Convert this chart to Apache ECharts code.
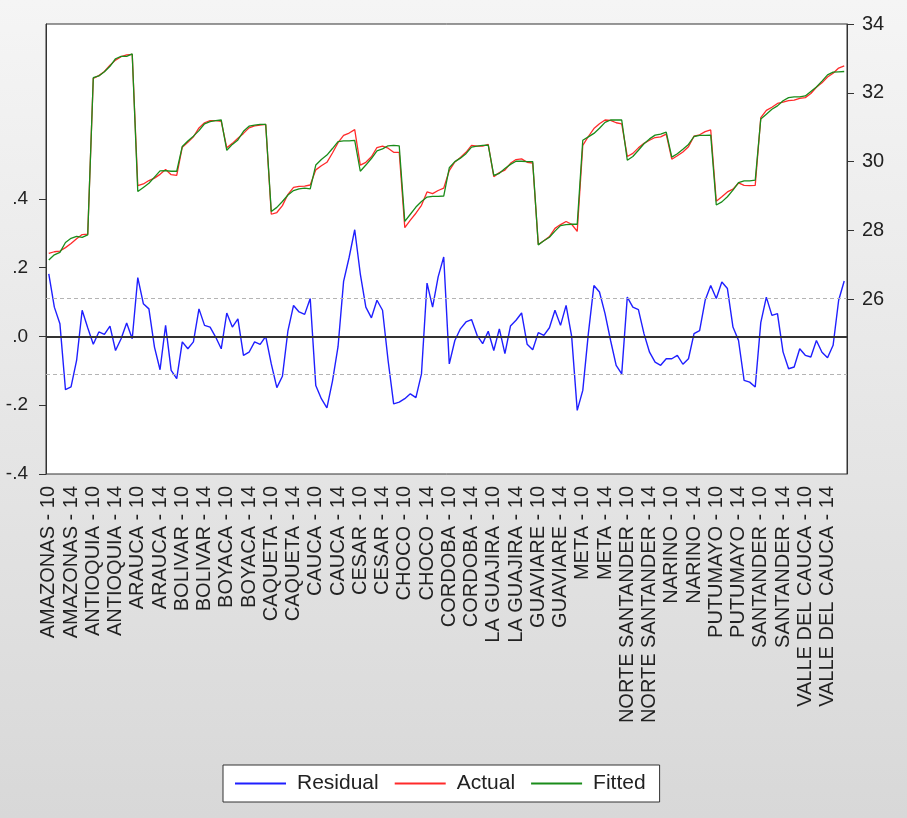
<!DOCTYPE html>
<html>
<head>
<meta charset="utf-8">
<title>Residual / Actual / Fitted</title>
<script src="https://cdn.jsdelivr.net/npm/echarts@6/dist/echarts.min.js"></script>
<style>
  html, body { margin: 0; padding: 0; background: #e6e6e6; }
  #chart { width: 907px; height: 818px; }
</style>
</head>
<body>
<div id="chart"></div>
<script>
// panel: 18 departments x years 10..17
const departments = ['AMAZONAS', 'ANTIOQUIA', 'ARAUCA', 'BOLIVAR', 'BOYACA', 'CAQUETA',
  'CAUCA', 'CESAR', 'CHOCO', 'CORDOBA', 'LA GUAJIRA', 'GUAVIARE', 'META',
  'NORTE SANTANDER', 'NARINO', 'PUTUMAYO', 'SANTANDER', 'VALLE DEL CAUCA'];
const years = ['10', '11', '12', '13', '14', '15', '16', '17'];

const actual = [
  27.33, 27.38, 27.40, 27.50, 27.62, 27.76, 27.88, 27.89,
  32.42, 32.50, 32.62, 32.80, 32.95, 33.05, 33.10, 33.12,
  29.30, 29.35, 29.45, 29.52, 29.63, 29.77, 29.62, 29.60,
  30.42, 30.56, 30.72, 30.98, 31.13, 31.19, 31.19, 31.17,
  30.40, 30.53, 30.68, 30.82, 30.98, 31.04, 31.06, 31.08,
  28.47, 28.52, 28.72, 29.05, 29.25, 29.28, 29.29, 29.32,
  29.76, 29.88, 29.98, 30.25, 30.55, 30.76, 30.83, 30.93,
  29.90, 29.98, 30.14, 30.41, 30.45, 30.39, 30.27, 30.27,
  28.08, 28.30, 28.50, 28.73, 29.12, 29.07, 29.16, 29.23,
  29.74, 29.99, 30.12, 30.27, 30.47, 30.45, 30.45, 30.50,
  29.56, 29.68, 29.75, 29.95, 30.06, 30.08, 29.98, 29.96,
  27.59, 27.70, 27.82, 28.06, 28.17, 28.26, 28.18, 27.97,
  30.47, 30.73, 30.96, 31.10, 31.21, 31.20, 31.13, 31.10,
  30.15, 30.24, 30.40, 30.53, 30.62, 30.70, 30.72, 30.80,
  30.07, 30.17, 30.28, 30.43, 30.74, 30.78, 30.87, 30.92,
  28.85, 28.98, 29.12, 29.20, 29.38, 29.31, 29.30, 29.31,
  31.28, 31.49, 31.58, 31.69, 31.73, 31.77, 31.79, 31.84,
  31.86, 31.98, 32.16, 32.29, 32.46, 32.57, 32.72, 32.78
];

const fitted = [
  27.14, 27.29, 27.36, 27.65, 27.77, 27.83, 27.80, 27.87,
  32.44, 32.49, 32.61, 32.77, 32.99, 33.06, 33.06, 33.13,
  29.13, 29.25, 29.37, 29.55, 29.73, 29.74, 29.72, 29.72,
  30.44, 30.60, 30.74, 30.90, 31.10, 31.16, 31.19, 31.21,
  30.33, 30.50, 30.63, 30.88, 31.03, 31.06, 31.08, 31.08,
  28.55, 28.67, 28.84, 29.03, 29.16, 29.21, 29.23, 29.21,
  29.90, 30.06, 30.19, 30.38, 30.58, 30.60, 30.60, 30.62,
  29.72, 29.90, 30.09, 30.31, 30.37, 30.46, 30.47, 30.46,
  28.26, 28.47, 28.68, 28.84, 28.97, 28.99, 28.99, 29.00,
  29.82, 30.00, 30.10, 30.23, 30.42, 30.45, 30.47, 30.48,
  29.60, 29.66, 29.80, 29.92, 30.01, 30.01, 30.00, 30.00,
  27.58, 27.70, 27.80, 27.98, 28.14, 28.17, 28.18, 28.18,
  30.62, 30.72, 30.82, 30.97, 31.14, 31.21, 31.21, 31.21,
  30.04, 30.15, 30.33, 30.52, 30.66, 30.77, 30.80, 30.86,
  30.13, 30.23, 30.36, 30.50, 30.73, 30.76, 30.76, 30.77,
  28.74, 28.83, 28.98, 29.17, 29.39, 29.44, 29.44, 29.46,
  31.24, 31.38, 31.52, 31.62, 31.77, 31.86, 31.88, 31.88,
  31.91, 32.04, 32.17, 32.34, 32.52, 32.60, 32.61, 32.62
];

const residual = [
  0.182, 0.085, 0.037, -0.155, -0.147, -0.070, 0.076, 0.025,
  -0.023, 0.013, 0.006, 0.030, -0.041, -0.007, 0.039, -0.007,
  0.171, 0.095, 0.080, -0.031, -0.097, 0.032, -0.099, -0.123,
  -0.016, -0.036, -0.016, 0.080, 0.032, 0.027, -0.002, -0.036,
  0.068, 0.027, 0.051, -0.055, -0.046, -0.016, -0.023, 0.000,
  -0.080, -0.149, -0.116, 0.017, 0.090, 0.071, 0.064, 0.110,
  -0.143, -0.181, -0.208, -0.130, -0.030, 0.160, 0.230, 0.310,
  0.182, 0.085, 0.054, 0.105, 0.076, -0.070, -0.196, -0.191,
  -0.181, -0.167, -0.178, -0.109, 0.155, 0.085, 0.173, 0.231,
  -0.080, -0.012, 0.022, 0.042, 0.049, 0.003, -0.021, 0.015,
  -0.041, 0.022, -0.050, 0.030, 0.047, 0.068, -0.023, -0.039,
  0.011, 0.003, 0.025, 0.076, 0.032, 0.090, 0.000, -0.215,
  -0.157, 0.008, 0.148, 0.129, 0.066, -0.012, -0.084, -0.109,
  0.114, 0.085, 0.078, 0.008, -0.046, -0.075, -0.084, -0.065,
  -0.065, -0.055, -0.081, -0.065, 0.008, 0.017, 0.105, 0.148,
  0.110, 0.158, 0.139, 0.027, -0.012, -0.128, -0.133, -0.147,
  0.040, 0.114, 0.061, 0.066, -0.045, -0.094, -0.089, -0.036,
  -0.055, -0.060, -0.012, -0.046, -0.062, -0.026, 0.105, 0.161
];

const residualSE = 0.109;
const residualTicks = [-0.4, -0.2, 0, 0.2, 0.4];
const levelTicks = [26, 28, 30, 32, 34];

const categories = [];
departments.forEach(d => years.forEach(y => categories.push(d + ' - ' + y)));

const font = 'Liberation Sans, Arial, sans-serif';
const ink = '#222';
const frame = '#333';

let myChart = echarts.init(document.getElementById('chart'));

myChart.setOption({
  animation: false,
  backgroundColor: {
    type: 'linear', x: 0, y: 0, x2: 0, y2: 1,
    colorStops: [{ offset: 0, color: '#f5f5f5' }, { offset: 1, color: '#d8d8d8' }]
  },
  textStyle: { fontFamily: font },
  grid: {
    left: 46, right: 60, top: 24, bottom: 344,
    show: true, backgroundColor: '#fff', borderColor: frame, borderWidth: 1
  },
  legend: {
    data: ['Residual', 'Actual', 'Fitted'],
    left: 223, top: 765,
    icon: 'rect', itemWidth: 51, itemHeight: 2, itemGap: 16,
    backgroundColor: '#fff', borderColor: frame, borderWidth: 1,
    padding: [8, 14, 8, 12],
    textStyle: { fontSize: 21, color: ink, fontFamily: font, padding: [0, 0, 0, 6] }
  },
  xAxis: {
    type: 'category',
    data: categories,
    axisLine: { lineStyle: { color: frame, width: 1 } },
    axisTick: { interval: 1, length: 7, lineStyle: { color: frame } },
    axisLabel: {
      interval: 3, rotate: 90, margin: 12,
      fontSize: 20, color: ink, fontFamily: font
    },
    splitLine: { show: false }
  },
  yAxis: [
    {
      type: 'value', position: 'left',
      min: -0.4, max: 0.908,
      axisLine: { show: true, lineStyle: { color: frame } },
      axisTick: { show: true, length: 7, customValues: residualTicks, lineStyle: { color: frame } },
      axisLabel: {
        customValues: residualTicks, margin: 18,
        fontSize: 19, color: ink, fontFamily: font,
        formatter: v => (v < 0 ? '-' : '') + Math.abs(v).toFixed(1).replace(/^0/, '')
      },
      splitLine: { show: false }
    },
    {
      type: 'value', position: 'right',
      min: 20.92, max: 34,
      axisLine: { show: true, lineStyle: { color: frame } },
      axisTick: { show: true, length: 7, customValues: levelTicks, lineStyle: { color: frame } },
      axisLabel: {
        customValues: levelTicks, margin: 15,
        fontSize: 20, color: ink, fontFamily: font
      },
      splitLine: { show: false }
    }
  ],
  series: [
    {
      name: 'Residual', type: 'line', yAxisIndex: 0,
      data: residual, symbol: 'none',
      lineStyle: { color: '#1f1fff', width: 1.4 },
      itemStyle: { color: '#1f1fff' },
      markLine: {
        silent: true, symbol: ['none', 'none'], label: { show: false },
        data: [
          { yAxis: 0, lineStyle: { color: frame, width: 2, type: 'solid' } },
          { yAxis: residualSE, lineStyle: { color: '#b4b4b4', width: 1, type: [4, 3] } },
          { yAxis: -residualSE, lineStyle: { color: '#b4b4b4', width: 1, type: [4, 3] } }
        ]
      }
    },
    {
      name: 'Actual', type: 'line', yAxisIndex: 1,
      data: actual, symbol: 'none',
      lineStyle: { color: '#ff2a2a', width: 1.3 },
      itemStyle: { color: '#ff2a2a' }
    },
    {
      name: 'Fitted', type: 'line', yAxisIndex: 1,
      data: fitted, symbol: 'none',
      lineStyle: { color: '#1a8c1a', width: 1.3 },
      itemStyle: { color: '#1a8c1a' }
    }
  ]
});

window.onresize = function () {
  myChart.resize();
};
</script>
</body>
</html>
